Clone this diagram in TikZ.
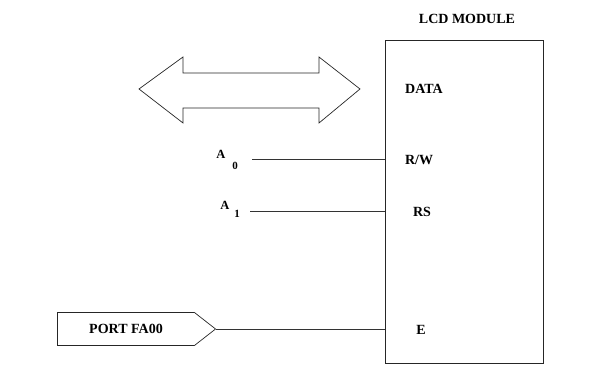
\documentclass[tikz,border=0pt]{standalone}
\usepackage{fontspec}
\setmainfont{Liberation Serif}
\usetikzlibrary{shapes.symbols}
\tikzset{
  lbl/.style={font=\fontsize{14}{16}\selectfont\bfseries, inner sep=0pt},
  albl/.style={font=\fontsize{12.5}{14}\selectfont\bfseries, inner sep=0pt},
  sublbl/.style={font=\fontsize{11}{13}\selectfont\bfseries, inner sep=0pt},
  wire/.style={draw=black!80, line width=0.6pt},
  outline/.style={draw=black!85, line width=0.7pt}
}
\begin{document}
\begin{tikzpicture}[x=1pt,y=-1pt]
\useasboundingbox (0,0) rectangle (595,379);
% LCD module box
\node[outline, minimum width=158pt, minimum height=323pt, inner sep=0pt] (lcd) at (464,201.5) {};
\node[lbl] (title) at (467,19) {LCD MODULE};
\node[lbl] (data) at (424,89) {DATA};
\node[lbl] (rw) at (419,160) {R/W};
\node[lbl] (rs) at (422,212) {RS};
\node[lbl] (e) at (421,330) {E};
% bidirectional data arrow
\draw[outline] (139,89) -- (183,57) -- (183,73) -- (319,73) -- (319,57) -- (360,89)
  -- (319,123) -- (319,108) -- (183,108) -- (183,123) -- cycle;
% A0 and A1
\node[albl] (a0) at (221,154) {A};
\node[sublbl] (a0sub) at (235,166) {0};
\node[albl] (a1) at (225,205) {A};
\node[sublbl] (a1sub) at (237,214) {1};
\coordinate (a0s) at (252,159);
\coordinate (a1s) at (250,211);
\draw[wire] (a0s) -- (a0s -| lcd.west);
\draw[wire] (a1s) -- (a1s -| lcd.west);
% port
\node[outline, signal, signal to=east, signal pointer angle=76, minimum width=158pt, minimum height=33pt, inner sep=0pt, font=\fontsize{14}{16}\selectfont\bfseries] (port) at (126,329) {PORT FA00};
\draw[wire] (port.east) -- (port.east -| lcd.west);
\end{tikzpicture}
\end{document}
